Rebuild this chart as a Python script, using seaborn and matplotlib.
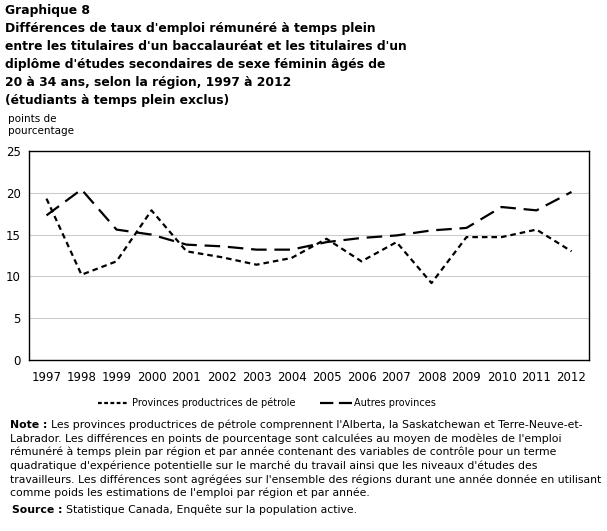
import matplotlib
matplotlib.use('Agg')
import matplotlib.pyplot as plt
from matplotlib.lines import Line2D
import numpy as np
import pandas as pd
import seaborn as sns

# Data
years = ['1997', '1998', '1999', '2000', '2001', '2002', '2003', '2004',
         '2005', '2006', '2007', '2008', '2009', '2010', '2011', '2012']
oil_provinces = [19.3, 10.2, 11.8, 17.9, 13.0, 12.3, 11.4, 12.2,
                 14.5, 11.8, 14.1, 9.2, 14.7, 14.7, 15.6, 13.0]
other_provinces = [17.3, 20.4, 15.6, 15.0, 13.8, 13.6, 13.2, 13.2,
                   14.1, 14.6, 14.9, 15.5, 15.8, 18.3, 17.9, 20.1]
series_names = ['Provinces productrices de pétrole', 'Autres provinces']
y_ticks = [0, 5, 10, 15, 20, 25]

title = ("Graphique 8\n"
         "Différences de taux d'emploi rémunéré à temps plein\n"
         "entre les titulaires d'un baccalauréat et les titulaires d'un\n"
         "diplôme d'études secondaires de sexe féminin âgés de\n"
         "20 à 34 ans, selon la région, 1997 à 2012\n"
         "(étudiants à temps plein exclus)")
note_lines = [
    "Les provinces productrices de pétrole comprennent l'Alberta, la Saskatchewan et Terre-Neuve-et-",
    "Labrador. Les différences en points de pourcentage sont calculées au moyen de modèles de l'emploi",
    "rémunéré à temps plein par région et par année contenant des variables de contrôle pour un terme",
    "quadratique d'expérience potentielle sur le marché du travail ainsi que les niveaux d'études des",
    "travailleurs. Les différences sont agrégées sur l'ensemble des régions durant une année donnée en utilisant",
    "comme poids les estimations de l'emploi par région et par année.",
]
source_text = "Statistique Canada, Enquête sur la population active."

df = pd.DataFrame({'pos': np.arange(len(years)),
                   series_names[0]: oil_provinces,
                   series_names[1]: other_provinces})
long_df = df.melt(id_vars='pos', var_name='serie', value_name='valeur')

sns.set_style('white')
plt.rcParams['font.family'] = ['DejaVu Sans']
plt.rcParams['text.color'] = 'black'
plt.rcParams['xtick.color'] = 'black'
plt.rcParams['ytick.color'] = 'black'

W, H = 607, 531
fig = plt.figure(figsize=(W / 100, H / 100), dpi=100)
ax = fig.add_axes([29 / W, 1 - 360 / H, 560 / W, 209 / H])

dash_oil = (2.5, 1.8)
dash_other = (7, 3.5)
sns.lineplot(data=long_df, x='pos', y='valeur', hue='serie', style='serie',
             palette=['black', 'black'],
             dashes={series_names[0]: dash_oil, series_names[1]: dash_other},
             linewidth=1.6, ax=ax, legend=False)

ax.set_xlim(-0.5, len(years) - 0.5)
ax.set_ylim(0, 25)
ax.set_yticks(y_ticks)
ax.set_yticklabels([str(v) for v in y_ticks], fontsize=8.5)
ax.set_xticks(np.arange(len(years)))
ax.set_xticklabels(years, fontsize=8.5)
ax.set_xticks(np.arange(len(years) + 1) - 0.5, minor=True)
ax.tick_params(axis='x', which='major', length=0, pad=8)
ax.tick_params(axis='x', which='minor', direction='in', length=4, color='black')
ax.tick_params(axis='y', length=0, pad=6)
for v in y_ticks[1:-1]:
    ax.axhline(v, color='#cccccc', linewidth=0.8, zorder=0)
for s in ax.spines.values():
    s.set_color('black')
    s.set_linewidth(1)
ax.set_xlabel('')
ax.set_ylabel('')

fig.text(5 / W, 1 - 4 / H, title, ha='left', va='top', fontsize=8.95,
         fontweight='bold', linespacing=1.5)
fig.text(8 / W, 1 - 114 / H, "points de\npourcentage", ha='left', va='top',
         fontsize=7.5, linespacing=1.3)

# Legend
handles = [Line2D([], [], color='black', linewidth=1.6, dashes=(1.7, 1.1)),
           Line2D([], [], color='black', linewidth=1.6, dashes=(6, 2.5))]
fig.legend(handles, series_names, loc='center', bbox_to_anchor=(267 / W, 1 - 403 / H),
           ncol=2, frameon=False, fontsize=7.0, handlelength=3.2, handletextpad=0.3,
           columnspacing=2.6)

# Notes
renderer = fig.canvas.get_renderer()
fs = 7.8
y0 = 1 - 425 / H
lh = 13.6 / H
t = fig.text(10 / W, y0, "Note :", ha='left', va='center', fontsize=fs, fontweight='bold')
x_after = t.get_window_extent(renderer).x1 / W + 4 / W
fig.text(x_after, y0, note_lines[0], ha='left', va='center', fontsize=fs)
for i, line in enumerate(note_lines[1:], start=1):
    fig.text(10 / W, y0 - i * lh, line, ha='left', va='center', fontsize=fs)
ys = 1 - 510 / H
t = fig.text(12 / W, ys, "Source :", ha='left', va='center', fontsize=fs, fontweight='bold')
x_after = t.get_window_extent(renderer).x1 / W + 4 / W
fig.text(x_after, ys, source_text, ha='left', va='center', fontsize=fs)

fig.savefig('out.png', dpi=100)
